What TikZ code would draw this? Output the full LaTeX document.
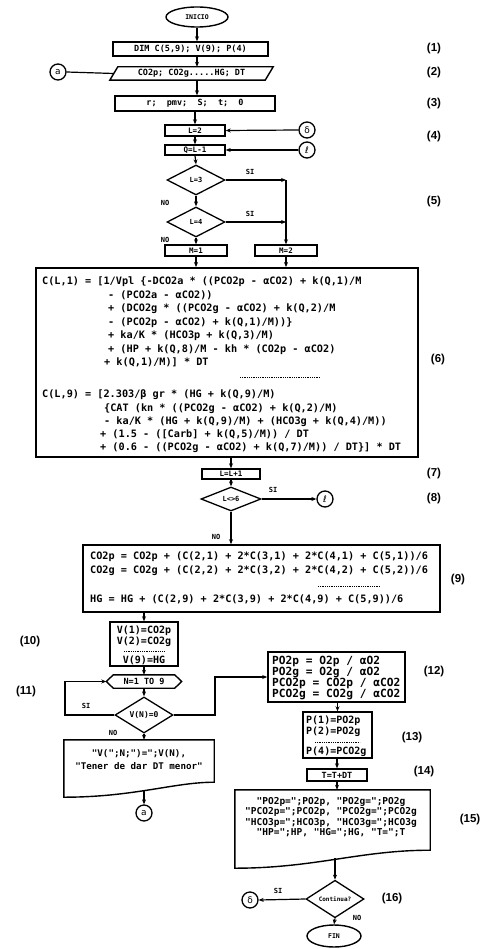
\documentclass[tikz,border=0pt]{standalone}
\usepackage{fontspec}
\setmainfont{DejaVu Sans}
\newfontfamily\bxf{DejaVu Sans Mono}
\newfontfamily\lbf{Liberation Sans}
\usetikzlibrary{shapes.geometric,arrows.meta,calc}
\begin{document}
\begin{tikzpicture}[x=1pt,y=-1pt,
  ln/.style={line width=1.2pt},
  arr/.style={line width=1.2pt,-{Stealth[length=5pt,width=4pt]}},
  shp/.style={line width=1.4pt},
  box/.style={draw,rectangle,line width=1.4pt,inner sep=0pt},
  dia/.style={draw,diamond,line width=1.3pt,inner sep=0pt,font=\bxf\bfseries\fontsize{7}{8}\selectfont},
  ell/.style={draw,ellipse,line width=1.4pt,inner sep=0pt,font=\bxf\bfseries\fontsize{6.5}{7}\selectfont},
  conn/.style={draw,circle,line width=1.3pt,minimum size=16pt,inner sep=0pt,font=\fontsize{9}{10}\selectfont},
  tl/.style={inner sep=0pt,anchor=base west,font=\bxf\bfseries\fontsize{10.2}{11}\selectfont},
  tc/.style={inner sep=0pt,anchor=base,font=\bxf\bfseries\fontsize{10}{11}\selectfont},
  sm/.style={font=\bxf\bfseries\fontsize{7.5}{8}\selectfont},
  md/.style={font=\bxf\bfseries\fontsize{8.5}{9}\selectfont},
  yn/.style={inner sep=0pt,font=\bxf\bfseries\fontsize{7}{8}\selectfont},
  lab/.style={inner sep=0pt,font=\lbf\bfseries\fontsize{11.5}{13}\selectfont},
  sep/.style={line width=0.8pt,densely dotted}]
\useasboundingbox (0,0) rectangle (492,949);
\fill[white] (0,0) rectangle (492,949);

% ---- top part
\node[ell,minimum width=62pt,minimum height=20pt] (ini) at (197,17) {INICIO};
\node[box,minimum width=155pt,minimum height=14pt,md] (b1) at (190.5,49) {DIM C(5,9); V(9); P(4)};
\node[inner sep=0pt,minimum width=163pt,minimum height=13pt,md] (b2) at (191.5,73.5) {CO2p; CO2g.....HG; DT};
\draw[shp] (b2.south west) -- ($(b2.north west)+(8,0)$) -- (b2.north east) -- ($(b2.south east)+(-8,0)$) -- cycle;
\node[conn] (a1) at (58,72) {a};
\node[box,minimum width=160pt,minimum height=15pt,md] (b3) at (195,103.5) {r;\ \ pmv;\ \ S;\ \ t;\ \ 0};
\node[box,minimum width=60pt,minimum height=11pt,sm] (l2) at (195,130.5) {L=2};
\node[box,minimum width=60pt,minimum height=10pt,sm] (q1) at (195,150) {Q=L-1};
\node[conn] (del1) at (307,130) {δ};
\node[conn] (ell1) at (307,150) {ℓ};
\node[dia,minimum width=58pt,minimum height=30pt] (d1) at (196,180) {L=3};
\node[dia,minimum width=58pt,minimum height=30pt] (d2) at (196,222) {L=4};
\node[box,minimum width=62pt,minimum height=11pt,sm] (m1) at (196,250.5) {M=1};
\node[box,minimum width=62pt,minimum height=11pt,sm] (m2) at (286,250.5) {M=2};

\draw[arr] (ini.south) -- (b1.north -| ini);
\draw[arr] (b1.south -| ini) -- (b2.north -| ini);
\draw[ln] (a1.east) -- ($(b2.west)+(4,0)$);
\draw[arr] (b2.south -| ini) -- (b3.north -| ini);
\draw[arr] (b3.south -| l2) -- (l2.north);
\draw[arr] (l2.south) -- (q1.north);
\draw[arr] (del1.west) -- (l2.east);
\draw[arr] (ell1.west) -- (q1.east);
\draw[arr] (q1.south) -- (d1.north);
\draw[arr] (d1.south) -- (d2.north);
\draw[arr] (d2.south) -- (m1.north);
\coordinate (j1) at (m2.north |- d1.east);
\coordinate (j2) at (m2.north |- d2.east);
\draw[arr] (d1.east) -- (j1);
\draw[arr] (d2.east) -- (j2);
\draw[arr] (j1) -- (m2.north);
\node[yn] (si1) at (250,172) {SI};
\node[yn] (si2) at (250,214) {SI};
\node[yn] (no1) at (165,203) {NO};
\node[yn] (no2) at (165,240) {NO};

% ---- box 6
\node[box,line width=1.8pt,minimum width=382pt,minimum height=189pt] (b6) at (227,362.5) {};
\draw[arr] (m1.south) -- (m1.south |- b6.north);
\draw[arr] (m2.south) -- (m2.south |- b6.north);
\node[tl] (t1) at (42,284.7) {C(L,1) = [1/Vpl \{-DCO2a * ((PCO2p - αCO2) + k(Q,1)/M};
\node[tl] (t2) at (108,298.2) {- (PCO2a - αCO2))};
\node[tl] (t3) at (108,311.7) {+ (DCO2g * ((PCO2g - αCO2) + k(Q,2)/M};
\node[tl] (t4) at (108,325.2) {- (PCO2p - αCO2) + k(Q,1)/M))\}};
\node[tl] (t5) at (108,338.7) {+ ka/K * (HCO3p + k(Q,3)/M)};
\node[tl] (t6) at (108,352.2) {+ (HP + k(Q,8)/M - kh * (CO2p - αCO2)};
\node[tl] (t7) at (104,365.7) {+ k(Q,1)/M)] * DT};
\draw[sep] (240,377) -- (320,377);
\node[tl] (t8) at (42,397.7) {C(L,9) = [2.303/β gr * (HG + k(Q,9)/M)};
\node[tl] (t9) at (104,411.7) {\{CAT (kn * ((PCO2g - αCO2) + k(Q,2)/M)};
\node[tl] (t10) at (104,424.7) {- ka/K * (HG + k(Q,9)/M) + (HCO3g + k(Q,4)/M))};
\node[tl] (t11) at (100,437.7) {+ (1.5 - ([Carb] + k(Q,5)/M)) / DT};
\node[tl] (t12) at (100,450.7) {+ (0.6 - ((PCO2g - αCO2) + k(Q,7)/M)) / DT\}] * DT};

% ---- 7, 8
\node[box,minimum width=58pt,minimum height=10pt,sm] (ll1) at (231,474) {L=L+1};
\node[dia,minimum width=60pt,minimum height=24pt] (d3) at (231,499) {L<>6};
\node[conn] (ell2) at (325,499) {ℓ};
\draw[arr] (b6.south -| ll1) -- (ll1.north);
\draw[arr] (ll1.south) -- (d3.north);
\draw[arr] (d3.east) -- (ell2.west);
\node[yn] (si3) at (273,490) {SI};

% ---- box 9
\node[box,line width=1.6pt,minimum width=357pt,minimum height=67pt] (b9) at (261.5,578.5) {};
\draw[arr] (d3.south) -- (d3.south |- b9.north);
\node[yn] (no3) at (216,537) {NO};
\node[tl] (n1) at (90,559.7) {CO2p = CO2p + (C(2,1) + 2*C(3,1) + 2*C(4,1) + C(5,1))/6};
\node[tl] (n2) at (90,573.7) {CO2g = CO2g + (C(2,2) + 2*C(3,2) + 2*C(4,2) + C(5,2))/6};
\draw[sep] (318,586) -- (380,586);
\node[tl] (n3) at (90,602.7) {HG = HG + (C(2,9) + 2*C(3,9) + 2*C(4,9) + C(5,9))/6};

% ---- box 10, loop 11
\node[box,minimum width=68pt,minimum height=44pt] (b10) at (144,644) {};
\draw[arr] (b9.south -| b10) -- (b10.north);
\node[tc] (v1) at (144,633) {V(1)=CO2p};
\node[tc] (v2) at (144,644) {V(2)=CO2g};
\draw[sep] (124,651) -- (164,651);
\node[tc] (v9) at (144,663) {V(9)=HG};

\node[inner sep=0pt,minimum width=75pt,minimum height=13pt,font=\bxf\bfseries\fontsize{8.5}{9}\selectfont] (hx) at (144,681.5) {N=1 TO 9};
\draw[shp] (hx.west) -- ($(hx.north west)+(7,0)$) -- ($(hx.north east)+(-7,0)$) -- (hx.east) -- ($(hx.south east)+(-7,0)$) -- ($(hx.south west)+(7,0)$) -- cycle;
\draw[arr] (b10.south) -- (hx.north);
\node[dia,minimum width=58pt,minimum height=30pt,font=\bxf\bfseries\fontsize{8}{9}\selectfont] (d4) at (144,715) {V(N)=0};
\draw[arr] (hx.south) -- (d4.north);
\coordinate (lp1) at (65,715);
\coordinate (lp2) at (65,681.5);
\draw[arr] (d4.west) -- (lp1) -- (lp2) -- (hx.west);
\node[yn] (si4) at (86,706) {SI};
\coordinate (rp1) at (215,715);
\coordinate (rp2) at (215,677);

% ---- output doc 11
\node[inner sep=0pt,minimum width=150pt,minimum height=57pt] (d11) at (139,768.5) {};
\draw[shp] (d11.south west) -- (d11.north west) -- (d11.north east) -- ($(d11.south east)+(0,-15)$) .. controls +(-40,0) and +(70,0) .. (d11.south west) -- cycle;
\draw[arr] (d4.south) -- (d4.south |- d11.north);
\node[yn] (no4) at (113,733) {NO};
\node[tc,font=\bxf\bfseries\fontsize{9.2}{10}\selectfont] (o1) at (139,756) {"V(";N;")=";V(N),};
\node[tc,font=\bxf\bfseries\fontsize{9.2}{10}\selectfont] (o2) at (139,769) {"Tener de dar DT menor"};
\node[conn] (a2) at (144,813) {a};
\coordinate (dbot) at (144,791);
\draw[arr] (dbot) -- (a2.north);

% ---- right column 12-16
\node[box,line width=1.6pt,minimum width=137pt,minimum height=50pt] (b12) at (336.5,677) {};
\draw[arr] (d4.east) -- (rp1) -- (rp2) -- (b12.west);
\node[tl,font=\bxf\bfseries\fontsize{11.2}{12}\selectfont] (p1) at (272,664.5) {PO2p = O2p / αO2};
\node[tl,font=\bxf\bfseries\fontsize{11.2}{12}\selectfont] (p2) at (272,675.5) {PO2g = O2g / αO2};
\node[tl,font=\bxf\bfseries\fontsize{11.2}{12}\selectfont] (p3) at (272,686.5) {PCO2p = CO2p / αCO2};
\node[tl,font=\bxf\bfseries\fontsize{11.2}{12}\selectfont] (p4) at (272,697.5) {PCO2g = CO2g / αCO2};

\node[box,minimum width=69pt,minimum height=46pt] (b13) at (337.5,735) {};
\draw[arr] (b12.south -| b13) -- (b13.north);
\node[tl,font=\bxf\bfseries\fontsize{10}{11}\selectfont] (f1) at (306,723.5) {P(1)=PO2p};
\node[tl,font=\bxf\bfseries\fontsize{10}{11}\selectfont] (f2) at (306,734.5) {P(2)=PO2g};
\draw[sep] (315,742) -- (360,742);
\node[tl,font=\bxf\bfseries\fontsize{10}{11}\selectfont] (f4) at (306,754.5) {P(4)=PCO2g};

\node[box,minimum width=60pt,minimum height=12pt,md] (b14) at (337,775) {T=T+DT};
\draw[arr] (b13.south -| b14) -- (b14.north);

\node[inner sep=0pt,minimum width=195pt,minimum height=78pt] (d15) at (332.5,829) {};
\draw[shp] (d15.south west) -- (d15.north west) -- (d15.north east) -- ($(d15.south east)+(0,-18)$) .. controls +(-70,0) and +(80,0) .. (d15.south west) -- cycle;
\draw[arr] (b14.south) -- (b14.south |- d15.north);
\node[tc,font=\bxf\bfseries\fontsize{9.5}{10}\selectfont] (r1) at (331,804) {"PO2p=";PO2p, "PO2g=";PO2g};
\node[tc,font=\bxf\bfseries\fontsize{9.5}{10}\selectfont] (r2) at (331,814.5) {"PCO2p=";PCO2p, "PCO2g=";PCO2g};
\node[tc,font=\bxf\bfseries\fontsize{9.5}{10}\selectfont] (r3) at (331,825) {"HCO3p=";HCO3p, "HCO3g=";HCO3g};
\node[tc,font=\bxf\bfseries\fontsize{9.5}{10}\selectfont] (r4) at (331,835.5) {"HP=";HP, "HG=";HG, "T=";T};

\node[dia,minimum width=58pt,minimum height=28pt,font=\bxf\bfseries\fontsize{6}{7}\selectfont] (d5) at (335,899) {Continua?};
\coordinate (dbot2) at (335,858);
\draw[arr] (dbot2) -- (d5.north);
\node[conn] (del2) at (250,900) {δ};
\draw[arr] (d5.west) -- (del2.east);
\node[yn] (si5) at (278,891) {SI};
\node[ell,minimum width=54pt,minimum height=22pt] (fin) at (334,936) {FIN};
\draw[arr] (d5.south) -- (fin.north);
\node[yn] (no5) at (357,918) {NO};

% ---- step labels
\node[lab] (k1) at (434,49) {(1)};
\node[lab] (k2) at (434,73) {(2)};
\node[lab] (k3) at (434,104) {(3)};
\node[lab] (k4) at (434,137) {(4)};
\node[lab] (k5) at (434,202) {(5)};
\node[lab] (k6) at (438,360) {(6)};
\node[lab] (k7) at (434,474) {(7)};
\node[lab] (k8) at (434,499) {(8)};
\node[lab] (k9) at (458,580) {(9)};
\node[lab] (k10) at (30,642) {(10)};
\node[lab] (k11) at (26,692) {(11)};
\node[lab] (k12) at (434,672) {(12)};
\node[lab] (k13) at (412,738) {(13)};
\node[lab] (k14) at (424,772) {(14)};
\node[lab] (k15) at (470,820) {(15)};
\node[lab] (k16) at (392,899) {(16)};
\end{tikzpicture}
\end{document}
